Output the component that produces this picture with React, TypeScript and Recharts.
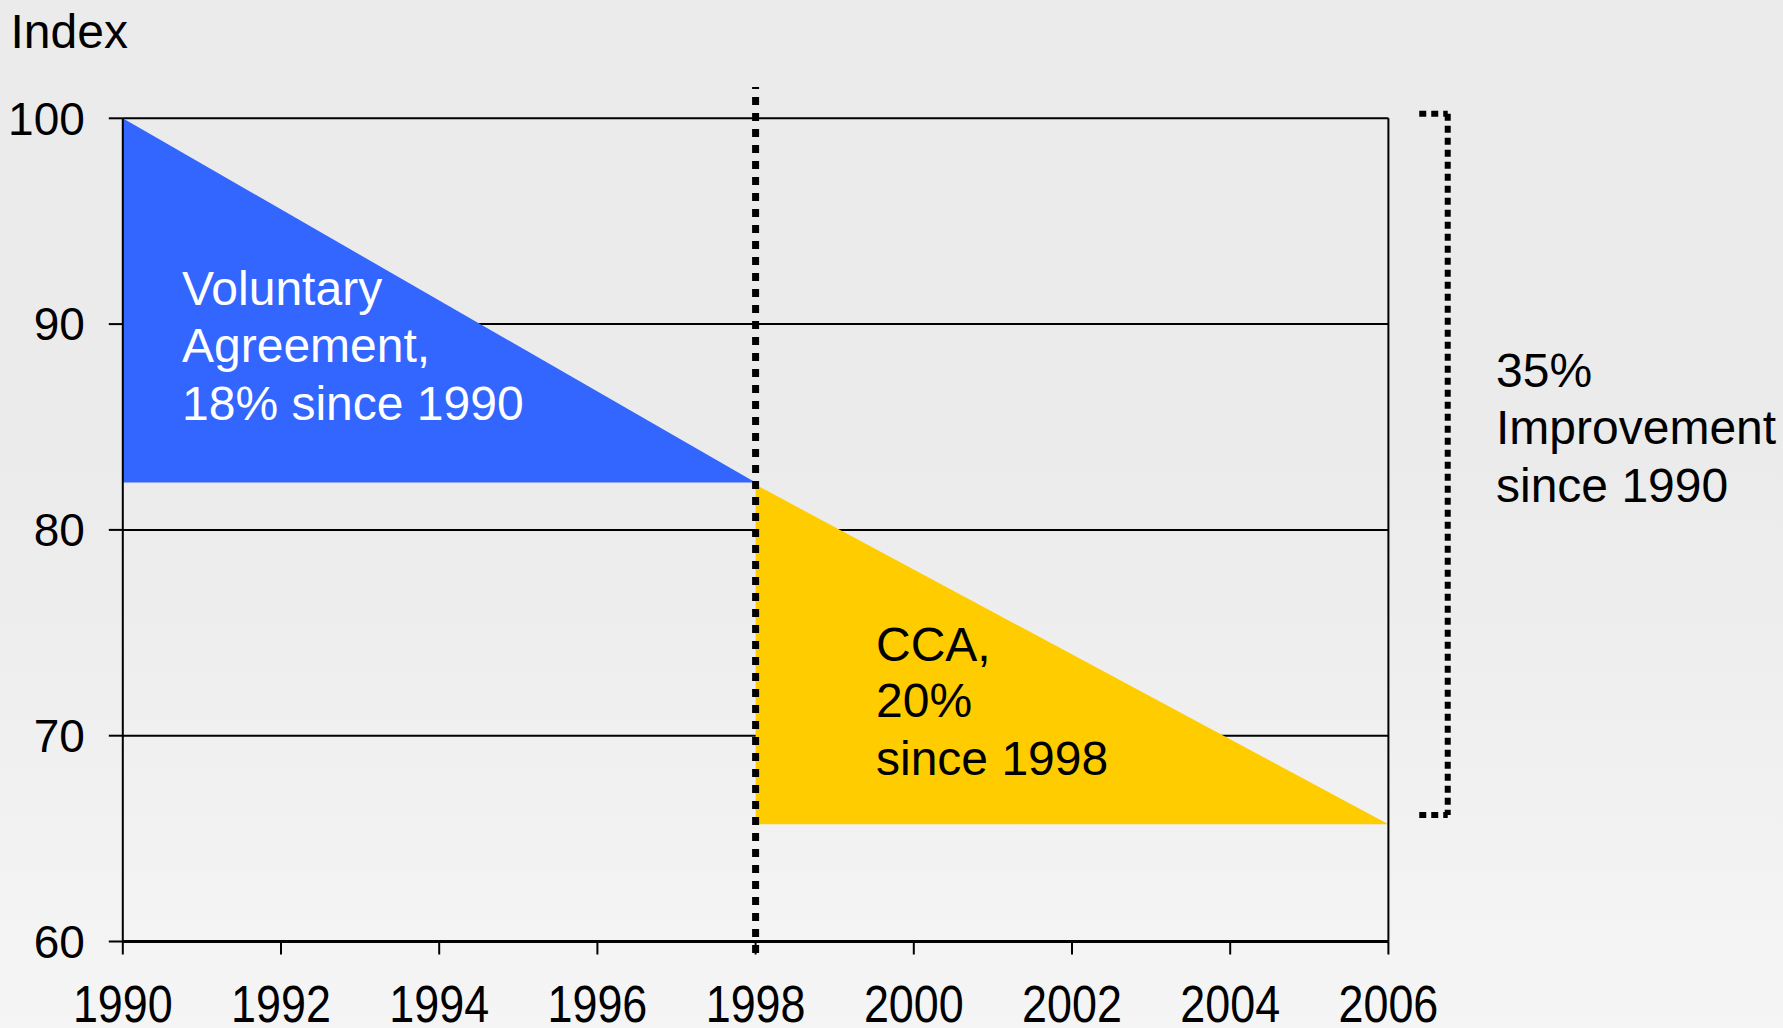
import { ComposedChart, Area, XAxis, YAxis, CartesianGrid, ReferenceLine } from 'recharts';

const years = [1990, 1998, 2006];
const voluntaryIndex = [100, 82.3, null];
const ccaIndex = [null, 82.2, 65.7];
const voluntaryFloor = 82.3;
const ccaFloor = 65.7;

const xTicks = [1990, 1992, 1994, 1996, 1998, 2000, 2002, 2004, 2006];
const yTicks = [60, 70, 80, 90, 100];

const data = years.map((year, i) => ({
  year,
  va: voluntaryIndex[i],
  cca: ccaIndex[i],
}));

const FONT = '"Liberation Sans", Arial, Helvetica, sans-serif';

// condensed year labels like in the original slide
const YearTick = ({ x, y, payload }: any) => (
  <g transform={`translate(${x},${y + 36}) scale(0.88,1)`}>
    <text x={0} y={0} textAnchor="middle" fill="#000" fontSize={51} fontFamily={FONT}>
      {payload.value}
    </text>
  </g>
);

const W = 1783;
const H = 1028;

export default function App() {
  return (
    <div
      style={{
        position: 'relative',
        width: W,
        height: H,
        background: 'linear-gradient(to bottom, #ebebeb 0%, #ebebeb 45%, #f5f5f5 100%)',
        fontFamily: FONT,
      }}
    >
      <style>{`body{margin:0}`}</style>
      <ComposedChart
        width={W}
        height={H}
        data={data}
        margin={{ top: 118.3, right: 394.6, bottom: 6.5, left: 12.8 }}
      >
        <CartesianGrid vertical={false} stroke="#000" strokeWidth={2} />
        <XAxis
          dataKey="year"
          type="number"
          domain={[1990, 2006]}
          ticks={xTicks}
          interval={0}
          height={80}
          tickSize={13}
          tickMargin={31}
          axisLine={{ stroke: '#000', strokeWidth: 3 }}
          tickLine={{ stroke: '#000', strokeWidth: 2 }}
          tick={<YearTick />}
        />
        <YAxis
          type="number"
          domain={[60, 100]}
          ticks={yTicks}
          interval={0}
          width={110}
          tickSize={14}
          tickMargin={24}
          axisLine={{ stroke: '#000', strokeWidth: 2 }}
          tickLine={{ stroke: '#000', strokeWidth: 2 }}
          tick={{ fill: '#000', fontSize: 46, fontFamily: FONT }}
        />
        <Area
          type="linear"
          dataKey="va"
          baseValue={voluntaryFloor}
          fill="#3366ff"
          fillOpacity={1}
          stroke="none"
          isAnimationActive={false}
          dot={false}
          activeDot={false}
        />
        <Area
          type="linear"
          dataKey="cca"
          baseValue={ccaFloor}
          fill="#ffcc00"
          fillOpacity={1}
          stroke="none"
          isAnimationActive={false}
          dot={false}
          activeDot={false}
        />
        <ReferenceLine x={2006} stroke="#000" strokeWidth={2} ifOverflow="visible" />
        <ReferenceLine
          segment={[{ x: 1998, y: 59.44 }, { x: 1998, y: 101.52 }]}
          stroke="#000"
          strokeWidth={7}
          strokeDasharray="8 8"
          ifOverflow="visible"
        />
        {/* bracket on the right */}
        <ReferenceLine
          segment={[{ x: 2006.39, y: 100.22 }, { x: 2006.75, y: 100.22 }]}
          stroke="#000"
          strokeWidth={6}
          strokeDasharray="7 5"
          ifOverflow="visible"
        />
        <ReferenceLine
          segment={[{ x: 2006.75, y: 100.22 }, { x: 2006.75, y: 66.15 }]}
          stroke="#000"
          strokeWidth={6}
          strokeDasharray="7 5"
          ifOverflow="visible"
        />
        <ReferenceLine
          segment={[{ x: 2006.39, y: 66.15 }, { x: 2006.75, y: 66.15 }]}
          stroke="#000"
          strokeWidth={6}
          strokeDasharray="7 5"
          ifOverflow="visible"
        />
      </ComposedChart>

      <svg
        width={W}
        height={H}
        style={{ position: 'absolute', left: 0, top: 0, pointerEvents: 'none' }}
      >
        <g fontFamily={FONT} fontSize={48}>
          <text x={10.5} y={48.3} fill="#000">Index</text>

          <text x={182} y={305} fill="#fff">Voluntary</text>
          <text x={182} y={362} fill="#fff">Agreement,</text>
          <text x={182} y={420} fill="#fff">18% since 1990</text>

          <text x={876} y={661} fill="#000">CCA,</text>
          <text x={876} y={717} fill="#000">20%</text>
          <text x={876} y={775} fill="#000">since 1998</text>

          <text x={1496} y={387} fill="#000">35%</text>
          <text x={1496} y={444} fill="#000">Improvement</text>
          <text x={1496} y={502} fill="#000">since 1990</text>
        </g>
      </svg>
    </div>
  );
}
